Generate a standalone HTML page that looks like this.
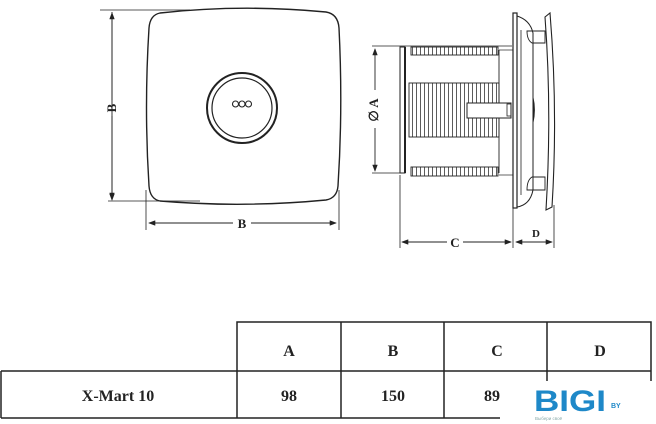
<!DOCTYPE html>
<html><head><meta charset="utf-8"><style>
html,body{margin:0;padding:0;background:#fff;width:656px;height:424px;overflow:hidden}
text{font-family:"Liberation Serif",serif;font-weight:bold;fill:#222}
</style></head><body>
<svg width="656" height="424" viewBox="0 0 656 424" xmlns="http://www.w3.org/2000/svg">
<defs>
<marker id="ar" markerWidth="8" markerHeight="6" refX="7" refY="3" orient="auto"><path d="M0,0 L8,3 L0,6 Z" fill="#222"/></marker>
<pattern id="fin" width="4" height="10" patternUnits="userSpaceOnUse"><rect width="4" height="10" fill="#fff"/><line x1="0.5" y1="0" x2="0.5" y2="10" stroke="#333" stroke-width="0.8"/></pattern>
</defs>
<g stroke="#222" fill="none">
<!-- front view -->
<path d="M160,13 Q242,4 326,12 Q338,14 339,28 Q343,108 338,186 Q337,198 326,200 Q242,208 160,201 Q150,199 149,186 Q144,108 149,28 Q150,15 160,13 Z" stroke-width="1.4"/>
<circle cx="242" cy="108" r="35" stroke-width="2"/>
<circle cx="242" cy="108" r="30" stroke-width="1.2"/>
<circle cx="235.5" cy="104" r="3" stroke-width="1.1"/><circle cx="242" cy="104" r="3" stroke-width="1.1"/><circle cx="248.5" cy="104" r="3" stroke-width="1.1"/>
<line x1="100" y1="10" x2="190" y2="10" stroke-width="0.8"/>
<line x1="108" y1="201" x2="200" y2="201" stroke-width="0.8"/>
<line x1="112" y1="12" x2="112" y2="200" stroke-width="0.9" marker-end="url(#ar)" marker-start="url(#ar)" style="marker-start:none"/>
<line x1="112" y1="100" x2="112" y2="13" stroke-width="0.9" marker-end="url(#ar)"/>
<line x1="112" y1="116" x2="112" y2="199" stroke-width="0.9" marker-end="url(#ar)"/>
<line x1="146" y1="190" x2="146" y2="230" stroke-width="0.8"/>
<line x1="339" y1="190" x2="339" y2="230" stroke-width="0.8"/>
<line x1="233" y1="223" x2="149" y2="223" stroke-width="0.9" marker-end="url(#ar)"/>
<line x1="251" y1="223" x2="336" y2="223" stroke-width="0.9" marker-end="url(#ar)"/>
<!-- side view -->
<line x1="372" y1="46" x2="512" y2="46" stroke-width="0.7"/>
<line x1="372" y1="173" x2="405" y2="173" stroke-width="0.7"/>
<line x1="375" y1="90" x2="375" y2="49" stroke-width="0.9" marker-end="url(#ar)"/>
<line x1="375" y1="128" x2="375" y2="171" stroke-width="0.9" marker-end="url(#ar)"/>
<rect x="400" y="47" width="5" height="126" stroke-width="1"/>
<line x1="405" y1="47" x2="405" y2="173" stroke-width="2"/>
<rect x="411" y="47" width="87" height="8" fill="url(#fin)" stroke-width="0.9"/>
<rect x="411" y="167" width="87" height="9" fill="url(#fin)" stroke-width="0.9"/>
<rect x="409" y="83" width="90" height="54" fill="url(#fin)" stroke-width="0.9"/>
<line x1="499" y1="50" x2="499" y2="173" stroke-width="0.9"/>
<line x1="499" y1="50" x2="513" y2="50" stroke-width="0.7"/>
<line x1="499" y1="175" x2="513" y2="175" stroke-width="0.7"/>
<rect x="467" y="103" width="44" height="15" fill="#fff" stroke-width="1"/>
<rect x="507" y="104" width="4" height="12" stroke-width="0.8"/>
<rect x="513" y="13" width="4" height="195" stroke-width="1.2" fill="#fff"/>
<path d="M517,16 Q530,20 533,33 L533,190 Q530,205 517,207" stroke-width="1"/>
<line x1="521" y1="30" x2="521" y2="195" stroke-width="0.8"/>
<path d="M527,31 L545,31 L545,43 L532,43 Q527,40 527,31 Z" stroke-width="0.9"/>
<path d="M527,190 L545,190 L545,177 L532,177 Q527,180 527,190 Z" stroke-width="0.9"/>
<path d="M533,97 Q536,110 533,123 Z" fill="#222" stroke-width="0.8"/>
<path d="M545,17 L550,13 Q558,110 552,207 L546,210 Q552,110 545,17 Z" stroke-width="1.1" fill="#fff"/>
<line x1="400" y1="175" x2="400" y2="248" stroke-width="0.8"/>
<line x1="513" y1="200" x2="513" y2="248" stroke-width="0.8"/>
<line x1="554" y1="205" x2="554" y2="248" stroke-width="0.8"/>
<line x1="447" y1="242" x2="402" y2="242" stroke-width="0.9" marker-end="url(#ar)"/>
<line x1="463" y1="242" x2="511" y2="242" stroke-width="0.9" marker-end="url(#ar)"/>
<line x1="533" y1="242" x2="516" y2="242" stroke-width="0.9" marker-end="url(#ar)"/>
<line x1="533" y1="242" x2="552" y2="242" stroke-width="0.9" marker-end="url(#ar)"/>
<!-- table -->
<path d="M237,418 L237,322 L651,322 L651,381" stroke-width="1.5"/>
<line x1="1" y1="371" x2="651" y2="371" stroke-width="1.5"/>
<line x1="1" y1="418" x2="500" y2="418" stroke-width="1.5"/>
<line x1="1" y1="371" x2="1" y2="418" stroke-width="1.5"/>
<line x1="341" y1="322" x2="341" y2="418" stroke-width="1.5"/>
<line x1="444" y1="322" x2="444" y2="418" stroke-width="1.5"/>
<line x1="547" y1="322" x2="547" y2="381" stroke-width="1.5"/>
</g>
<text x="116" y="108" font-size="13" text-anchor="middle" transform="rotate(-90 116 108)">B</text>
<text x="242" y="228" font-size="13" text-anchor="middle">B</text>
<text x="378" y="110" font-size="13" text-anchor="middle" transform="rotate(-90 378 110)">∅ A</text>
<text x="455" y="247" font-size="13" text-anchor="middle">C</text>
<text x="536" y="237" font-size="11" text-anchor="middle">D</text>
<text x="289" y="356" font-size="16" text-anchor="middle">A</text>
<text x="393" y="356" font-size="16" text-anchor="middle">B</text>
<text x="497" y="356" font-size="16" text-anchor="middle">C</text>
<text x="600" y="356" font-size="16" text-anchor="middle">D</text>
<text x="118" y="401" font-size="16" text-anchor="middle">X-Mart 10</text>
<text x="289" y="401" font-size="16" text-anchor="middle">98</text>
<text x="393" y="401" font-size="16" text-anchor="middle">150</text>
<text x="492" y="401" font-size="16" text-anchor="middle">89</text>
<text x="534" y="411" font-size="30" style="font-family:'Liberation Sans',sans-serif;font-weight:900;fill:#1e88c8" textLength="72" lengthAdjust="spacingAndGlyphs">BIGI</text>
<text x="611" y="408" font-size="7" style="font-family:'Liberation Sans',sans-serif;fill:#1e88c8">BY</text>
<text x="535" y="420" font-size="4.5" style="font-family:'Liberation Sans',sans-serif;font-weight:normal;fill:#8aa">Выбери своё</text>
</svg>
</body></html>
